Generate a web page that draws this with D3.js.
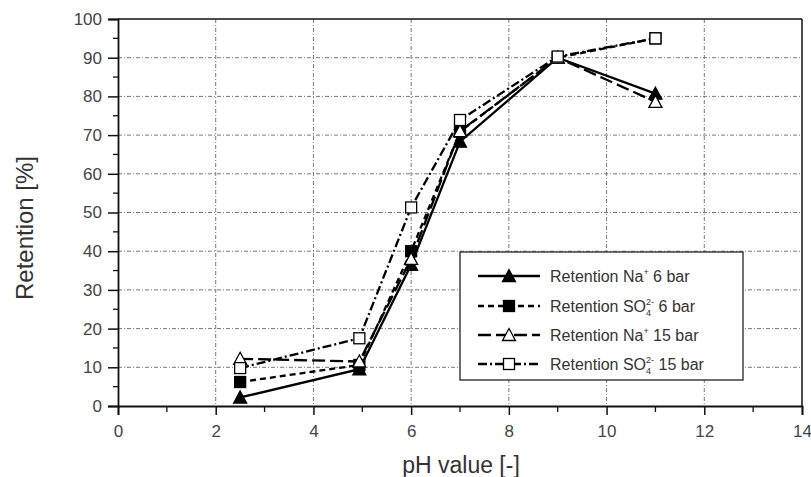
<!DOCTYPE html>
<html><head><meta charset="utf-8">
<script src="https://cdn.jsdelivr.net/npm/d3@7"></script>
<style>body{margin:0;background:#fff}</style>
</head><body>
<svg id="c" width="811" height="477"></svg>
<script>
const phValues = [2.5, 4.94, 6.0, 7.0, 9.0, 11.0];
const naSixBar = [2.2, 9.5, 36.5, 68.3, 90.0, 80.7];
const so4SixBar = [6.2, 10.6, 40.0, 70.9, 90.0, 95.0];
const naFifteenBar = [12.2, 11.5, 38.0, 71.0, 90.0, 78.6];
const so4FifteenBar = [9.8, 17.5, 51.3, 73.9, 90.3, 95.0];
const xTicks = [0, 2, 4, 6, 8, 10, 12, 14];
const yTicks = [0, 10, 20, 30, 40, 50, 60, 70, 80, 90, 100];

const seriesList = [
  {ion: "Na", charge: "+", pressure: "6 bar", values: naSixBar, dash: null, marker: "triangle", fill: "#000"},
  {ion: "SO4", charge: "2-", pressure: "6 bar", values: so4SixBar, dash: "6,4", marker: "square", fill: "#000"},
  {ion: "Na", charge: "+", pressure: "15 bar", values: naFifteenBar, dash: "13,5", marker: "triangle", fill: "#fff"},
  {ion: "SO4", charge: "2-", pressure: "15 bar", values: so4FifteenBar, dash: "9,3,2,3", marker: "square", fill: "#fff"}
];

const svg = d3.select("#c");
const L = 118, R = 802, T = 19, B = 406;
const x = d3.scaleLinear().domain([0, 14]).range([L, R]);
const y = d3.scaleLinear().domain([0, 100]).range([B, T]);
const font = "Liberation Sans, Arial, sans-serif";

// grid
const g = svg.append("g");
g.selectAll(".gx").data(xTicks.filter(d => d > 0 && d < 14)).enter().append("line")
  .attr("x1", d => x(d)).attr("x2", d => x(d)).attr("y1", T).attr("y2", B)
  .attr("stroke", "#777").attr("stroke-width", 1).attr("stroke-dasharray", "4,2,1,2");
g.selectAll(".gy").data(yTicks.filter(d => d > 0 && d < 100)).enter().append("line")
  .attr("x1", L).attr("x2", R).attr("y1", d => y(d)).attr("y2", d => y(d))
  .attr("stroke", "#777").attr("stroke-width", 1).attr("stroke-dasharray", "4,2,1,2");

// frame top & right
svg.append("line").attr("x1", L).attr("x2", R).attr("y1", T).attr("y2", T).attr("stroke", "#111").attr("stroke-width", 1.5);
svg.append("line").attr("x1", R).attr("x2", R).attr("y1", T).attr("y2", B).attr("stroke", "#111").attr("stroke-width", 1.5);

// axes
const xAxis = d3.axisBottom(x).tickValues(xTicks).tickSize(9).tickPadding(10);
const xg = svg.append("g").attr("transform", `translate(0,${B})`).call(xAxis);
const yAxis = d3.axisLeft(y).tickValues(yTicks).tickSize(10).tickPadding(6);
const yg = svg.append("g").attr("transform", `translate(${L},0)`).call(yAxis);
[xg, yg].forEach(a => {
  a.select(".domain").attr("stroke", "#111").attr("stroke-width", 1.8);
  a.selectAll(".tick line").attr("stroke", "#111").attr("stroke-width", 1.5);
  a.selectAll(".tick text").attr("font-family", font).attr("font-size", 17).attr("fill", "#444");
});
// minor ticks
const xMinor = d3.range(1, 14, 2);
svg.selectAll(".mx").data(xMinor).enter().append("line")
  .attr("x1", d => x(d)).attr("x2", d => x(d)).attr("y1", B).attr("y2", B + 6)
  .attr("stroke", "#111").attr("stroke-width", 1.3);
const yMinor = d3.range(5, 100, 10);
svg.selectAll(".my").data(yMinor).enter().append("line")
  .attr("x1", L - 5).attr("x2", L).attr("y1", d => y(d)).attr("y2", d => y(d))
  .attr("stroke", "#111").attr("stroke-width", 1.3);

// titles
svg.append("text").attr("x", 461).attr("y", 473).attr("text-anchor", "middle")
  .attr("font-family", font).attr("font-size", 23).attr("fill", "#333").text("pH value [-]");
svg.append("text").attr("transform", "translate(33,228) rotate(-90)").attr("text-anchor", "middle")
  .attr("font-family", font).attr("font-size", 24).attr("fill", "#333").text("Retention [%]");

function drawMarker(sel, type, fill, cx, cy) {
  if (type === "square") {
    sel.append("rect").attr("x", cx - 5.5).attr("y", cy - 5.5).attr("width", 11).attr("height", 11)
      .attr("fill", fill).attr("stroke", "#000").attr("stroke-width", 1.3);
  } else {
    sel.append("path").attr("d", `M${cx},${cy - 6.5}L${cx + 6.5},${cy + 5.5}L${cx - 6.5},${cy + 5.5}Z`)
      .attr("fill", fill).attr("stroke", "#000").attr("stroke-width", 1.3);
  }
}

const line = d3.line().x((d, i) => x(phValues[i])).y(d => y(d));
seriesList.forEach(s => {
  svg.append("path").attr("d", line(s.values)).attr("fill", "none")
    .attr("stroke", "#000").attr("stroke-width", 2.3)
    .attr("stroke-dasharray", s.dash);
});
seriesList.forEach(s => {
  const mg = svg.append("g");
  s.values.forEach((v, i) => drawMarker(mg, s.marker, s.fill, x(phValues[i]), y(v)));
});

// legend
const lg = svg.append("g");
lg.append("rect").attr("x", 460).attr("y", 252).attr("width", 283).attr("height", 128)
  .attr("fill", "#fff").attr("stroke", "#222").attr("stroke-width", 1.3);
const rowY = [276, 306, 335, 364];
seriesList.forEach((s, i) => {
  const yy = rowY[i];
  lg.append("line").attr("x1", 478).attr("x2", 540).attr("y1", yy).attr("y2", yy)
    .attr("stroke", "#000").attr("stroke-width", 2.3).attr("stroke-dasharray", s.dash);
  drawMarker(lg, s.marker, s.fill, 509, yy);
  const t = lg.append("text").attr("x", 550).attr("y", yy + 6)
    .attr("font-family", font).attr("font-size", 16).attr("fill", "#333");
  if (s.ion === "Na") {
    t.append("tspan").text("Retention Na");
    t.append("tspan").attr("dy", -7).attr("font-size", 9).text(s.charge);
    t.append("tspan").attr("dy", 7).text(" " + s.pressure);
  } else {
    t.append("tspan").text("Retention SO");
    t.append("tspan").attr("dy", 4).attr("font-size", 9).text("4");
    t.append("tspan").attr("dy", -11).attr("dx", -5).attr("font-size", 9).text(s.charge);
    t.append("tspan").attr("dy", 7).text(" " + s.pressure);
  }
});
</script>
</body></html>
